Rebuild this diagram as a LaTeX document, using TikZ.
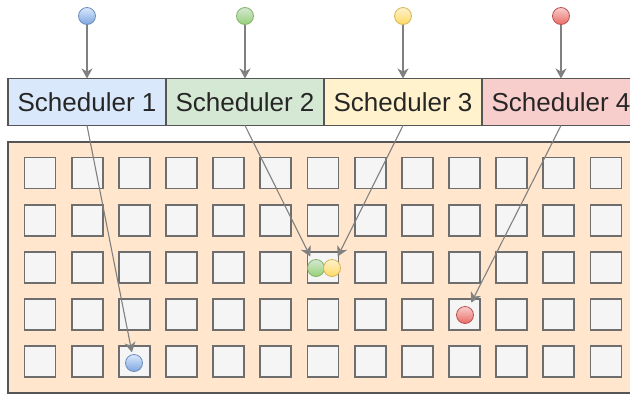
\documentclass[tikz,border=0pt]{standalone}
\usepackage{fontspec}
\setmainfont{Liberation Sans}
\usetikzlibrary{arrows.meta}
\definecolor{edge}{RGB}{85, 85, 85}
\definecolor{cellgray}{RGB}{245, 245, 245}
\definecolor{cellline}{RGB}{110, 110, 110}
\definecolor{pool}{RGB}{255, 230, 204}
\definecolor{arrowgray}{RGB}{128, 128, 128}
\definecolor{blueA}{RGB}{218, 232, 252}
\definecolor{blueB}{RGB}{126, 166, 224}
\definecolor{blueL}{RGB}{108, 142, 191}
\definecolor{greenA}{RGB}{213, 232, 212}
\definecolor{greenB}{RGB}{151, 208, 119}
\definecolor{greenL}{RGB}{130, 179, 102}
\definecolor{yellowA}{RGB}{255, 242, 204}
\definecolor{yellowB}{RGB}{255, 217, 102}
\definecolor{yellowL}{RGB}{214, 182, 86}
\definecolor{redA}{RGB}{248, 206, 204}
\definecolor{redB}{RGB}{234, 107, 102}
\definecolor{redL}{RGB}{184, 84, 80}

\begin{document}
\begin{tikzpicture}[
        x=1pt, y=-1pt,
        sched/.style={draw=edge, line width=1.2pt, minimum width=158pt, minimum height=47pt, inner sep=0pt, outer sep=0pt, text=black!85, font=\fontsize{26}{30}\selectfont},
        cell/.style={draw=cellline, fill=cellgray, line width=1.8pt, minimum size=31pt, inner sep=0pt},
        task/.style={circle, line width=0.8pt, minimum size=17pt, inner sep=0pt},
        arr/.style={draw=arrowgray, line width=1.1pt, -{Stealth[length=10pt, width=11pt, inset=3pt]}}
      ]
        \useasboundingbox (0,0) rectangle (630,394);
        \clip (0,0) rectangle (630,394);

        % schedulers
        \node[sched, fill=blueA] (sched1) at (87,102) {Scheduler 1};
        \node[sched, fill=greenA] (sched2) at (245,102) {Scheduler 2};
        \node[sched, fill=yellowA] (sched3) at (403,102) {Scheduler 3};
        \node[sched, fill=redA] (sched4) at (561,102) {Scheduler 4};

        % incoming tasks
        \node[task, draw=blueL, top color=blueA, bottom color=blueB] (in1) at (87,16) {};
        \node[task, draw=greenL, top color=greenA, bottom color=greenB] (in2) at (245,16) {};
        \node[task, draw=yellowL, top color=yellowA, bottom color=yellowB] (in3) at (403,16) {};
        \node[task, draw=redL, top color=redA, bottom color=redB] (in4) at (561,16) {};

        % worker pool
        \draw[draw=edge, fill=pool, line width=1.2pt] (8,142) rectangle (660,393);
        \foreach \row in {0,...,4} {
          \foreach \col in {0,...,12} {
            \node[cell] (c-\row-\col) at ({40+47.17*\col},{173+47.2*\row}) {};
          }
        }

        % placed tasks
        \node[task, draw=blueL, top color=blueA, bottom color=blueB] (run1) at (134,363) {};
        \node[task, draw=greenL, top color=greenA, bottom color=greenB] (run2) at (316,268) {};
        \node[task, draw=yellowL, top color=yellowA, bottom color=yellowB] (run3) at (332,268) {};
        \node[task, draw=redL, top color=redA, bottom color=redB] (run4) at (465,315) {};

        \draw[arr] (in1) -- (sched1);
        \draw[arr] (in2) -- (sched2);
        \draw[arr] (in3) -- (sched3);
        \draw[arr] (in4) -- (sched4);

        \draw[arr, shorten >=2pt] (sched1.south) -- (run1);
        \draw[arr, shorten >=4pt] (sched2.south) -- (run2);
        \draw[arr, shorten >=4pt] (sched3.south) -- (run3);
        \draw[arr, shorten >=5pt] (sched4.south) -- (run4);
      \end{tikzpicture}
\end{document}
